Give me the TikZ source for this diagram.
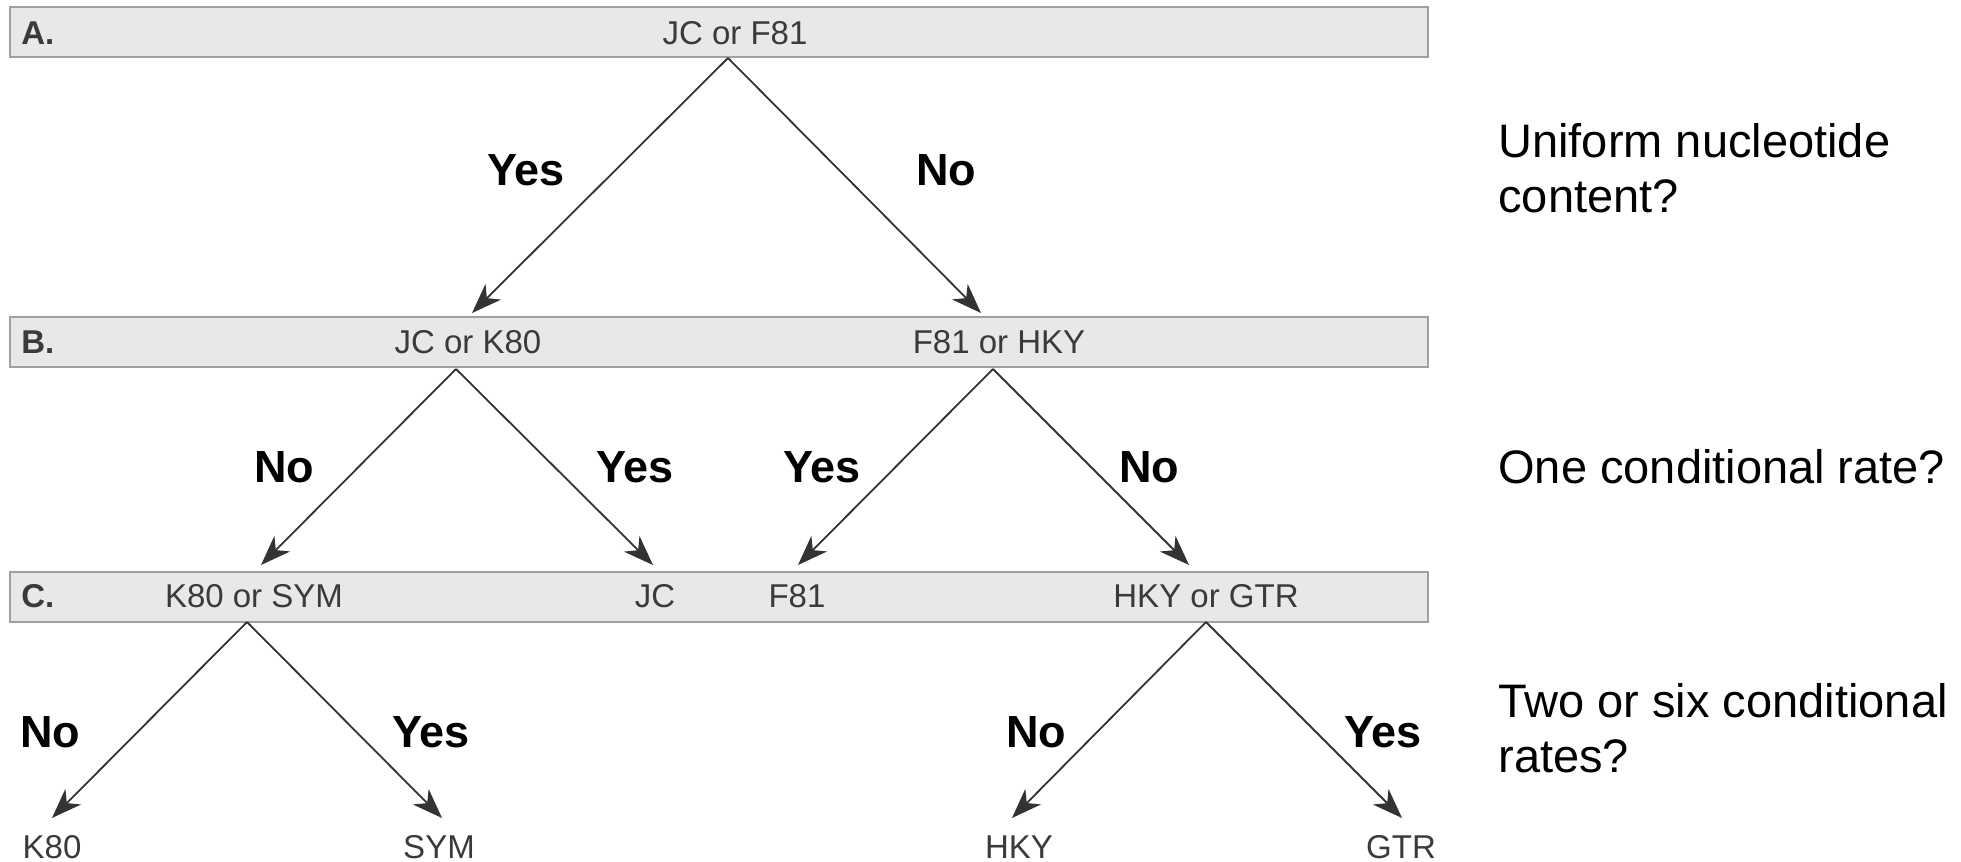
\documentclass[tikz,border=0pt]{standalone}
\usepackage{fontspec}
\setmainfont{Liberation Sans}
\usetikzlibrary{arrows.meta}
\definecolor{barfill}{HTML}{E8E8E8}
\definecolor{barline}{HTML}{A0A0A0}
\definecolor{txtgray}{HTML}{3A3A3A}
\definecolor{arrgray}{HTML}{333333}
\begin{document}
\begin{tikzpicture}[x=0.5pt,y=-0.5pt,
  bar/.style={draw=barline, fill=barfill, line width=0.75pt, inner sep=0pt, outer sep=0pt,
    minimum width=709pt, minimum height=25pt, anchor=north west},
  intext/.style={font=\fontsize{16.5}{19}\selectfont, text=txtgray, inner sep=0pt, anchor=base},
  rowlbl/.style={font=\fontsize{16.5}{19}\selectfont\bfseries, text=txtgray, inner sep=0pt, anchor=base west},
  ans/.style={font=\fontsize{22.5}{26}\selectfont\bfseries, inner sep=0pt, anchor=base},
  question/.style={font=\fontsize{23.5}{27.5}\selectfont, inner sep=0pt, anchor=base west, align=left},
  arr/.style={draw=arrgray, line width=0.9pt, -{Stealth[length=15pt,width=11pt,inset=4.5pt]}}
]
\useasboundingbox (0,0) rectangle (1961,862);

% bars
\node[bar] (barA) at (10,7) {};
\node[bar] (barB) at (10,317) {};
\node[bar] (barC) at (10,572) {};

% row labels
\node[rowlbl] (lA) at (21,44) {A.};
\node[rowlbl] (lB) at (21,353) {B.};
\node[rowlbl] (lC) at (21,607) {C.};

% bar texts
\node[intext] (jcf81) at (735,44) {JC or F81};
\node[intext] (jck80) at (468,353) {JC or K80};
\node[intext] (f81hky) at (999,353) {F81 or HKY};
\node[intext] (k80sym) at (254,607) {K80 or SYM};
\node[intext] (jc) at (655,607) {JC};
\node[intext] (f81) at (797,607) {F81};
\node[intext] (hkygtr) at (1206,607) {HKY or GTR};

% leaves
\node[intext] (k80) at (52,858) {K80};
\node[intext] (sym) at (439,858) {SYM};
\node[intext] (hky) at (1019,858) {HKY};
\node[intext] (gtr) at (1401,858) {GTR};

% connector end points
\coordinate (aA) at (728,58);
\coordinate (tA1) at (472,313);
\coordinate (tA2) at (981,313);
\coordinate (aB1) at (456,369);
\coordinate (tB1) at (261,565);
\coordinate (tB2) at (653,565);
\coordinate (aB2) at (993,369);
\coordinate (tB3) at (798,565);
\coordinate (tB4) at (1189,565);
\coordinate (aC1) at (247,622);
\coordinate (tC1) at (52,818);
\coordinate (tC2) at (442,818);
\coordinate (aC2) at (1206,622);
\coordinate (tC3) at (1012,818);
\coordinate (tC4) at (1402,818);

\draw[arr] (aA) -- (tA1);
\draw[arr] (aA) -- (tA2);
\draw[arr] (aB1) -- (tB1);
\draw[arr] (aB1) -- (tB2);
\draw[arr] (aB2) -- (tB3);
\draw[arr] (aB2) -- (tB4);
\draw[arr] (aC1) -- (tC1);
\draw[arr] (aC1) -- (tC2);
\draw[arr] (aC2) -- (tC3);
\draw[arr] (aC2) -- (tC4);

% answer labels
\node[ans] (y1) at (526,185) {Yes};
\node[ans] (n1) at (946,185) {No};
\node[ans] (n2) at (284,482) {No};
\node[ans] (y2) at (635,482) {Yes};
\node[ans] (y3) at (822,482) {Yes};
\node[ans] (n3) at (1149,482) {No};
\node[ans] (n4) at (50,747) {No};
\node[ans] (y4) at (431,747) {Yes};
\node[ans] (n5) at (1036,747) {No};
\node[ans] (y5) at (1383,747) {Yes};

% questions (base anchor = baseline of the last line)
\node[question] (q1) at (1498,212) {Uniform nucleotide\\content?};
\node[question] (q2) at (1498,483) {One conditional rate?};
\node[question] (q3) at (1498,772) {Two or six conditional\\rates?};
\end{tikzpicture}
\end{document}
